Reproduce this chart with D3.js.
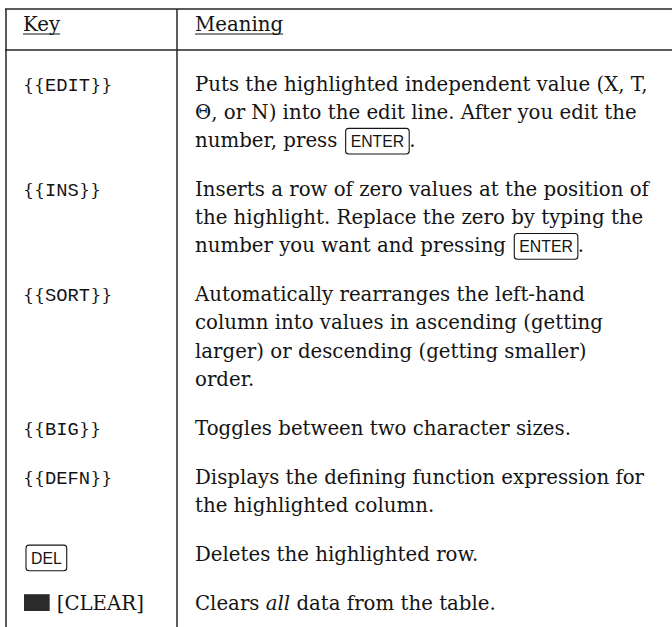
<!DOCTYPE html>
<html><head><meta charset="utf-8">
<script src="https://cdn.jsdelivr.net/npm/d3@7"></script>
<style>html,body{margin:0;padding:0;background:#fff;} svg{display:block;}</style>
</head><body>
<svg id="c" width="672" height="627"></svg>
<script>
// ---- data ----
const headers = ["Key", "Meaning"];
const keyKinds = ["menu", "menu", "menu", "menu", "menu", "keycap", "shifted"];
const keyLabels = ["EDIT", "INS", "SORT", "BIG", "DEFN", "DEL", "[CLEAR]"];
const meanings = [
  ["Puts the highlighted independent value (X, T,", "Θ, or N) into the edit line. After you edit the", "number, press [ENTER]."],
  ["Inserts a row of zero values at the position of", "the highlight. Replace the zero by typing the", "number you want and pressing [ENTER]."],
  ["Automatically rearranges the left-hand", "column into values in ascending (getting", "larger) or descending (getting smaller)", "order."],
  ["Toggles between two character sizes."],
  ["Displays the defining function expression for", "the highlighted column."],
  ["Deletes the highlighted row."],
  ["Clears *all* data from the table."]
];

// ---- layout / style ----
const W = 672, H = 627;
const topY = 9, headY = 50, leftX = 6, divX = 177;
const keyX = 23, meanX = 195, headBase = 31;
const firstBase = 91, lastBase = 610, rowGapUnits = 1.75;
const serif = "'DejaVu Serif', serif", mono = "'Liberation Mono', monospace", sans = "'Liberation Sans', sans-serif";
const ink = "#141414", rule = "#262626";
const fitLine = "Inserts a row of zero values at the position of", fitWidth = 454;

const svg = d3.select("#c");

// fit font size
const probe = svg.append("text").attr("font-family", serif).attr("font-size", 20).text(fitLine);
const fs = 20 * fitWidth / probe.node().getComputedTextLength();
probe.remove();

// row units
const rowStart = [];
let u = 0;
meanings.forEach((m) => { rowStart.push(u); u += (m.length - 1) + rowGapUnits; });
const maxUnit = rowStart[rowStart.length - 1] + meanings[meanings.length - 1].length - 1;
const y = d3.scaleLinear().domain([0, maxUnit]).range([firstBase, lastBase]);
const x = d3.scaleOrdinal().domain(["key", "meaning"]).range([keyX, meanX]);

// rules
const g = svg.append("g").attr("stroke", rule).attr("stroke-width", 1.5);
g.append("line").attr("x1", leftX - 1).attr("x2", W).attr("y1", topY).attr("y2", topY);
g.append("line").attr("x1", leftX - 1).attr("x2", W).attr("y1", headY).attr("y2", headY);
g.append("line").attr("x1", leftX).attr("x2", leftX).attr("y1", topY).attr("y2", H);
g.append("line").attr("x1", divX).attr("x2", divX).attr("y1", topY).attr("y2", H);

// headers
headers.forEach((h, i) => {
  const hx = x(i ? "meaning" : "key");
  const t = svg.append("text").attr("x", hx).attr("y", headBase)
    .attr("font-family", serif).attr("font-size", fs).attr("fill", ink).text(h);
  const w = t.node().getComputedTextLength();
  svg.append("line").attr("x1", hx).attr("x2", hx + w)
    .attr("y1", headBase + 3).attr("y2", headBase + 3).attr("stroke", ink).attr("stroke-width", 1.1);
});

function keycap(parent, cx, base, label) {
  const t = parent.append("text").attr("x", cx + 5).attr("y", base)
    .attr("font-family", sans).attr("font-size", fs * 0.8).attr("fill", ink).text(label);
  const w = t.node().getComputedTextLength();
  parent.append("rect").attr("x", cx).attr("y", base - fs * 0.95).attr("width", w + 10).attr("height", fs * 1.3)
    .attr("rx", 3).attr("fill", "none").attr("stroke", ink).attr("stroke-width", 1.1);
  return w + 10;
}

// key column
keyLabels.forEach((lab, i) => {
  const base = y(rowStart[i]);
  const grp = svg.append("g");
  let cx = x("key");
  if (keyKinds[i] === "menu") {
    [["{{", serif, 0.88], [lab, mono, 0.95], ["}}", serif, 0.88]].forEach(([s, f, k]) => {
      const t = grp.append("text").attr("x", cx).attr("y", base).attr("font-family", f)
        .attr("font-size", fs * k).attr("fill", ink).text(s);
      cx += t.node().getComputedTextLength();
    });
  } else if (keyKinds[i] === "keycap") {
    keycap(grp, cx + 3, base + 3, lab);
  } else {
    grp.append("rect").attr("x", cx + 1).attr("y", base - fs * 0.8).attr("width", fs * 1.3).attr("height", fs * 0.85)
      .attr("fill", "#2b2b2b");
    grp.append("text").attr("x", cx + fs * 1.3 + 8).attr("y", base).attr("font-family", serif)
      .attr("font-size", fs).attr("fill", ink).text(lab);
  }
});

// meaning column
meanings.forEach((lines, i) => {
  lines.forEach((line, j) => {
    const base = y(rowStart[i] + j);
    const grp = svg.append("g");
    let cx = x("meaning");
    line.split(/(\[ENTER\]|\*[^*]+\*)/).filter(s => s.length).forEach(seg => {
      if (seg === "[ENTER]") {
        cx += 2;
        cx += keycap(grp, cx, base, "ENTER");
      } else {
        const italic = seg.startsWith("*");
        const s = italic ? seg.slice(1, -1) : seg;
        const t = grp.append("text").attr("x", cx).attr("y", base).attr("font-family", serif)
          .attr("font-size", fs).attr("fill", ink).style("white-space", "pre")
          .attr("font-style", italic ? "italic" : "normal").text(s);
        cx += t.node().getComputedTextLength();
      }
    });
  });
});
</script>
</body></html>
